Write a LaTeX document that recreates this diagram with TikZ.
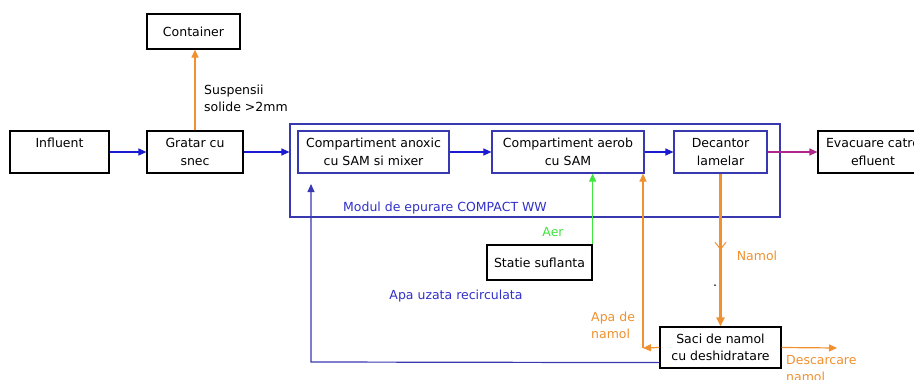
\documentclass[tikz,border=0pt]{standalone}
\usepackage{fontspec}
\setmainfont{DejaVu Sans}
\usetikzlibrary{arrows.meta,decorations.markings}
\definecolor{arrblue}{HTML}{1A1AD0}
\definecolor{boxblue}{HTML}{3838B0}
\definecolor{txtblue}{HTML}{3030C8}
\definecolor{orng}{HTML}{F0902E}
\definecolor{grn}{HTML}{3EE63E}
\definecolor{mgnt}{HTML}{B0278C}
\newcommand\dfont{\fontsize{12.5}{17.5}\selectfont}
\begin{document}
\begin{tikzpicture}[x=1pt,y=-1pt,
  box/.style={draw=black, line width=1.2pt, inner sep=0pt, align=center, font=\dfont},
  bbox/.style={box, draw=boxblue},
  lbl/.style={inner sep=0pt, font=\dfont},
  tip/.style={-{Triangle[length=8pt,width=7pt]}},
  barrow/.style={tip, draw=arrblue, line width=1.2pt},
  oarrow/.style={tip, draw=orng, line width=1.2pt},
]
\useasboundingbox (0,0) rectangle (914,380);
\clip (0,0) rectangle (914,380);

% boxes
\node[box, minimum width=93pt, minimum height=35pt] (cont) at (193.5,31.5) {Container};
\node[box, minimum width=99pt, minimum height=42pt] (infl) at (59.5,152) {Influent\\\mbox{}};
\node[box, minimum width=96pt, minimum height=42pt] (grat) at (195,152) {Gratar cu\\snec};
\node[draw=boxblue, line width=1.2pt, inner sep=0pt, minimum width=490pt, minimum height=93pt] (mod) at (535,170.5) {};
\node[bbox, minimum width=151pt, minimum height=42pt] (anox) at (373.5,152) {Compartiment anoxic\\cu SAM si mixer};
\node[bbox, minimum width=152pt, minimum height=42pt] (aer) at (568,152) {Compartiment aerob\\cu SAM};
\node[bbox, minimum width=93pt, minimum height=42pt] (dec) at (720.5,152) {Decantor\\lamelar};
\node[box, minimum width=110pt, minimum height=42pt] (evac) at (873,152) {Evacuare catre\\efluent};
\node[box, minimum width=105pt, minimum height=35pt] (stat) at (539.5,262.5) {Statie suflanta};
\node[box, minimum width=121pt, minimum height=41pt] (saci) at (720.5,347.5) {Saci de namol\\cu deshidratare};

% labels
\node[lbl, anchor=west, align=left] (susp) at (204,98.5) {Suspensii\\solide >2mm};
\node[lbl, text=txtblue] (modl) at (445,208) {Modul de epurare COMPACT WW};
\node[lbl, text=grn] (aerl) at (553,232) {Aer};
\node[lbl, text=txtblue] (apau) at (456,296) {Apa uzata recirculata};
\node[lbl, text=orng, anchor=west, align=left] (apan) at (591,325.5) {Apa de\\namol};
\node[lbl, text=orng] (naml) at (757,256) {Namol};
\node[lbl, text=orng, anchor=west, align=left] (desc) at (786,368.5) {Descarcare\\namol};
\node[lbl] (dot) at (715,286) {.};

% connectors
\draw[barrow] (infl.east) -- (grat.west);
\draw[barrow] (grat.east) -- (grat.east -| mod.west);
\draw[barrow] (anox.east) -- (aer.west);
\draw[barrow] (aer.east) -- (dec.west);
\draw[tip, draw=mgnt, line width=1.2pt] (dec.east) -- (evac.west);
\draw[oarrow] (grat.north) -- (grat.north |- cont.south);
\draw[tip, draw=grn, line width=1.2pt] (stat.north east) -- (stat.north east |- aer.south);

\coordinate (ac) at (643,348);
\draw[oarrow] (saci.west) -- (ac);
\draw[oarrow] (ac) -- (ac |- aer.south);

\draw[orng, line width=2.6pt, -{Triangle[length=9pt,width=8pt]},
  postaction={decorate, decoration={markings,
    mark=at position 0.5 with {\arrow[line width=1pt]{Straight Barb[length=7pt,width=11pt]}}}}]
  (dec.south) -- (saci.north);

\coordinate (dsc) at (837,348);
\draw[oarrow] (saci.east) -- (dsc);

\coordinate (rc) at (311,362);
\coordinate (re) at (311,184);
\draw[barrow, draw=boxblue] ([yshift=6pt]saci.south west) -- (rc) -- (re);
\end{tikzpicture}
\end{document}
